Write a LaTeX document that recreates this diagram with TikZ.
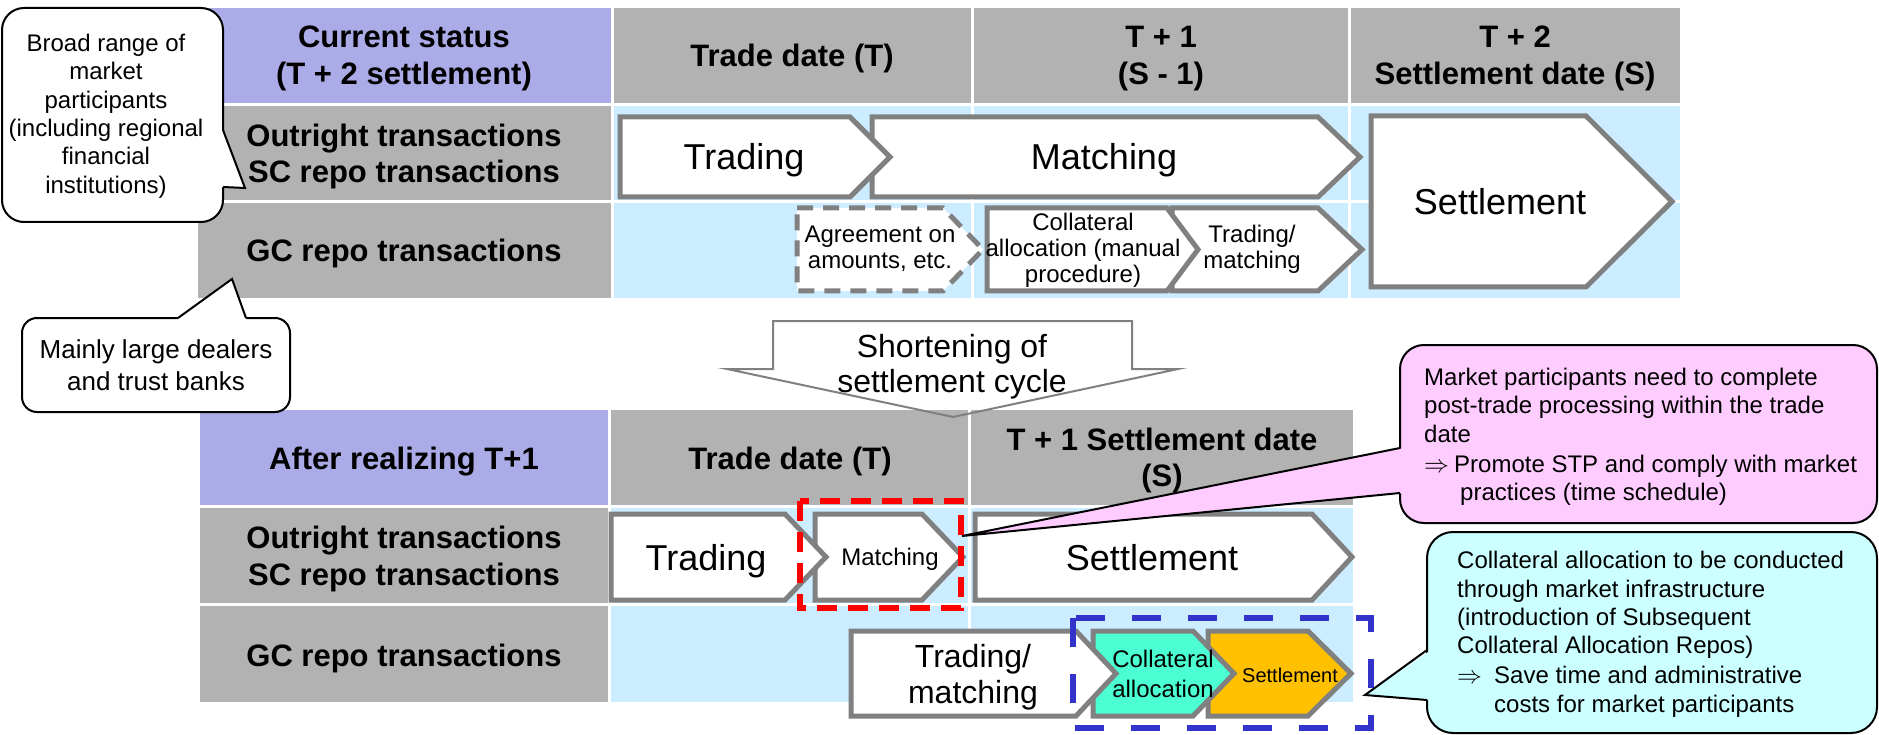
\documentclass[tikz,border=0pt]{standalone}
\usepackage{fontspec}
\setmainfont{Liberation Sans}
\definecolor{hdrpurple}{HTML}{ABABE8}
\definecolor{cellgray}{HTML}{B2B2B2}
\definecolor{cellblue}{HTML}{CCECFF}
\definecolor{chevgray}{HTML}{808080}
\definecolor{tealfill}{HTML}{4BFFD2}
\definecolor{orangefill}{HTML}{FFC000}
\definecolor{boxblue}{HTML}{3333CC}
\definecolor{pinkfill}{HTML}{FFCCFF}
\definecolor{cyanfill}{HTML}{CCFFFF}
\newcommand\tcell[5]{\fill[#1] (#2,#3) rectangle (#4,#5);}
\newcommand\mychev[6]{\draw[#1] (#2,#5) -- (#3,#5) -- (#4,{(#5+#6)/2}) -- (#3,#6) -- (#2,#6) -- cycle;}
\tikzset{
  hdr/.style={font=\fontsize{31}{36}\selectfont\bfseries, anchor=base, inner sep=0pt},
  big/.style={font=\fontsize{36}{40}\selectfont, anchor=base, inner sep=0pt},
  mid/.style={font=\fontsize{32}{36}\selectfont, anchor=base, inner sep=0pt},
  small/.style={font=\fontsize{24}{28}\selectfont, anchor=base, inner sep=0pt},
  smaller/.style={font=\fontsize{20}{24}\selectfont, anchor=base, inner sep=0pt},
  callt/.style={font=\fontsize{26}{30}\selectfont, anchor=base, inner sep=0pt},
  note/.style={font=\fontsize{24}{28}\selectfont, anchor=base west, inner sep=0pt},
  chevbox/.style={draw=chevgray, line width=5pt, fill=white, line join=miter},
  chevdashed/.style={draw=chevgray, line width=5pt, fill=white, dash pattern=on 16pt off 10pt},
  callbox/.style={draw=black, line width=2pt},
  tailline/.style={draw=black, line width=2pt, line join=miter},
}
\begin{document}
\begin{tikzpicture}[x=1pt, y=-1pt]
\fill[white] (0,0) rectangle (1879,735);
\useasboundingbox (0,0) rectangle (1879,735);

% ---------- top table ----------
\tcell{hdrpurple}{198}{8}{611}{103}
\tcell{cellgray}{614}{8}{971}{103}
\tcell{cellgray}{974}{8}{1348}{103}
\tcell{cellgray}{1351}{8}{1680}{103}
\tcell{cellgray}{198}{106}{611}{200}
\tcell{cellblue}{614}{106}{971}{200}
\tcell{cellblue}{974}{106}{1348}{200}
\tcell{cellblue}{1351}{106}{1680}{200}
\tcell{cellgray}{198}{203}{611}{298}
\tcell{cellblue}{614}{203}{971}{298}
\tcell{cellblue}{974}{203}{1348}{298}
\tcell{cellblue}{1351}{203}{1680}{298}

% ---------- bottom table ----------
\tcell{hdrpurple}{200}{410}{608}{505}
\tcell{cellgray}{611}{410}{968}{505}
\tcell{cellgray}{971}{410}{1353}{505}
\tcell{cellgray}{200}{508}{608}{603}
\tcell{cellblue}{611}{508}{968}{603}
\tcell{cellblue}{971}{508}{1353}{603}
\tcell{cellgray}{200}{606}{608}{702}
\tcell{cellblue}{611}{606}{968}{702}
\tcell{cellblue}{971}{606}{1353}{702}

% ---------- top chevrons ----------
\mychev{chevbox}{872}{1318}{1360}{117}{197}
\mychev{chevbox}{620}{850}{890}{117}{197}
\mychev{chevbox}{1371}{1586}{1672}{116}{287}
\mychev{chevbox}{1172}{1318}{1362}{208}{291}
\mychev{chevbox}{987}{1167}{1198}{208}{291}
\mychev{chevdashed}{797}{943}{983}{208}{291}

% ---------- bottom chevrons ----------
\mychev{chevbox}{815}{922}{963}{514}{600}
\mychev{chevbox}{611}{785}{826}{514}{600}
\mychev{chevbox}{975}{1312}{1352}{514}{600}
\mychev{chevbox, fill=orangefill}{1208}{1308}{1351}{631}{716}
\mychev{chevbox, fill=tealfill}{1093}{1193}{1234}{631}{716}
\mychev{chevbox}{851}{1076}{1116}{631}{716}

% ---------- header texts ----------
\node[hdr] (cs1) at (404,48) {Current status};
\node[hdr] (cs2) at (404,85) {(T + 2 settlement)};
\node[hdr] (td1) at (792,67) {Trade date (T)};
\node[hdr] (tpa) at (1161,48) {T + 1};
\node[hdr] (tpb) at (1161,85) {(S - 1)};
\node[hdr] (tqa) at (1515,48) {T + 2};
\node[hdr] (tqb) at (1515,85) {Settlement date (S)};
\node[hdr] (or1) at (404,147) {Outright transactions};
\node[hdr] (sc1) at (404,183) {SC repo transactions};
\node[hdr] (gc1) at (404,262) {GC repo transactions};

\node[hdr] (ar) at (404,469) {After realizing T+1};
\node[hdr] (td2) at (790,469) {Trade date (T)};
\node[hdr] (ts1) at (1162,450) {T + 1 Settlement date};
\node[hdr] (ts2) at (1162,486) {(S)};
\node[hdr] (or2) at (404,548) {Outright transactions};
\node[hdr] (sc2) at (404,585) {SC repo transactions};
\node[hdr] (gc2) at (404,666) {GC repo transactions};

% ---------- chevron texts ----------
\node[big] (trd1) at (744,170) {Trading};
\node[big] (mat1) at (1104,170) {Matching};
\node[big] (set1) at (1500,215) {Settlement};
\node[small] (ag1) at (880,243) {Agreement on};
\node[small] (ag2) at (880,269) {amounts, etc.};
\node[small] (co1) at (1083,231) {Collateral};
\node[small] (co2) at (1083,257) {allocation (manual};
\node[small] (co3) at (1083,283) {procedure)};
\node[small] (tm1) at (1252,243) {Trading/};
\node[small] (tm2) at (1252,269) {matching};

\node[big] (trd2) at (706,570) {Trading};
\node[small] (mat2) at (890,565) {Matching};
\node[big] (set2) at (1152,570) {Settlement};
\node[mid] (tm3) at (973,667) {Trading/};
\node[mid] (tm4) at (973,703) {matching};
\node[small] (ca1) at (1163,667) {Collateral};
\node[small] (ca2) at (1163,697) {allocation};
\node[smaller] (st3) at (1290,682) {Settlement};

% ---------- big arrow ----------
\draw[chevgray, line width=2pt, line join=miter] (773,321) -- (1132,321) -- (1132,369) -- (1178,369) -- (953,417) -- (727,369) -- (773,369) -- cycle;
\node[mid] (sh1) at (952,357) {Shortening of};
\node[mid] (sh2) at (952,392) {settlement cycle};

% ---------- callout: broad range ----------
\draw[callbox, fill=white, rounded corners=22pt] (2,8) rectangle (223,222);
\fill[white] (219,130) -- (223,130) -- (245,188) -- (223,187) -- (219,187) -- cycle;
\draw[tailline] (223,130) -- (245,188) -- (223,187);
\node[small] (br1) at (106,52) {Broad range of};
\node[small] (br2) at (106,80) {market};
\node[small] (br3) at (106,108.5) {participants};
\node[small] (br4) at (106,137) {(including regional};
\node[small] (br5) at (106,165) {financial};
\node[small] (br6) at (106,193.5) {institutions)};

% ---------- callout: mainly large dealers ----------
\draw[callbox, fill=white, rounded corners=15pt] (22,318) rectangle (290,412);
\fill[white] (178,321) -- (178,318) -- (232,279) -- (246,318) -- (246,321) -- cycle;
\draw[tailline] (178,318) -- (232,279) -- (246,318);
\node[callt] (ml1) at (156,358) {Mainly large dealers};
\node[callt] (ml2) at (156,390) {and trust banks};

% ---------- callout: pink ----------
\draw[callbox, fill=pinkfill, rounded corners=24pt] (1400,345) rectangle (1877,523);
\fill[pinkfill] (1404,448) -- (962,536) -- (1404,493) -- cycle;
\draw[tailline] (1400,448) -- (962,536) -- (1400,493);
\node[note] (pk1) at (1424,385) {Market participants need to complete};
\node[note] (pk2) at (1424,413) {post-trade processing within the trade};
\node[note] (pk3) at (1424,442) {date};
\node[note] (pk4) at (1424,472) {$\Rightarrow$};
\node[note] (pk5) at (1454,472) {Promote STP and comply with market};
\node[note] (pk6) at (1460,500) {practices (time schedule)};

% ---------- dashed boxes ----------
\draw[red, line width=6pt, dash pattern=on 20pt off 11pt] (800,501) rectangle (961,608);
\draw[boxblue, line width=6pt, dash pattern=on 29pt off 27pt] (1073,618) rectangle (1371,728);

% ---------- callout: cyan ----------
\draw[callbox, fill=cyanfill, rounded corners=26pt] (1427,532) rectangle (1877,733);
\fill[cyanfill] (1431,650) -- (1365,695) -- (1431,700) -- cycle;
\draw[tailline] (1427,650) -- (1365,695) -- (1427,700);
\node[note] (cy1) at (1457,568) {Collateral allocation to be conducted};
\node[note] (cy2) at (1457,597) {through market infrastructure};
\node[note] (cy3) at (1457,625) {(introduction of Subsequent};
\node[note] (cy4) at (1457,653) {Collateral Allocation Repos)};
\node[note] (cy5) at (1457,683) {$\Rightarrow$};
\node[note] (cy6) at (1494,683) {Save time and administrative};
\node[note] (cy7) at (1494,712) {costs for market participants};
\end{tikzpicture}
\end{document}
